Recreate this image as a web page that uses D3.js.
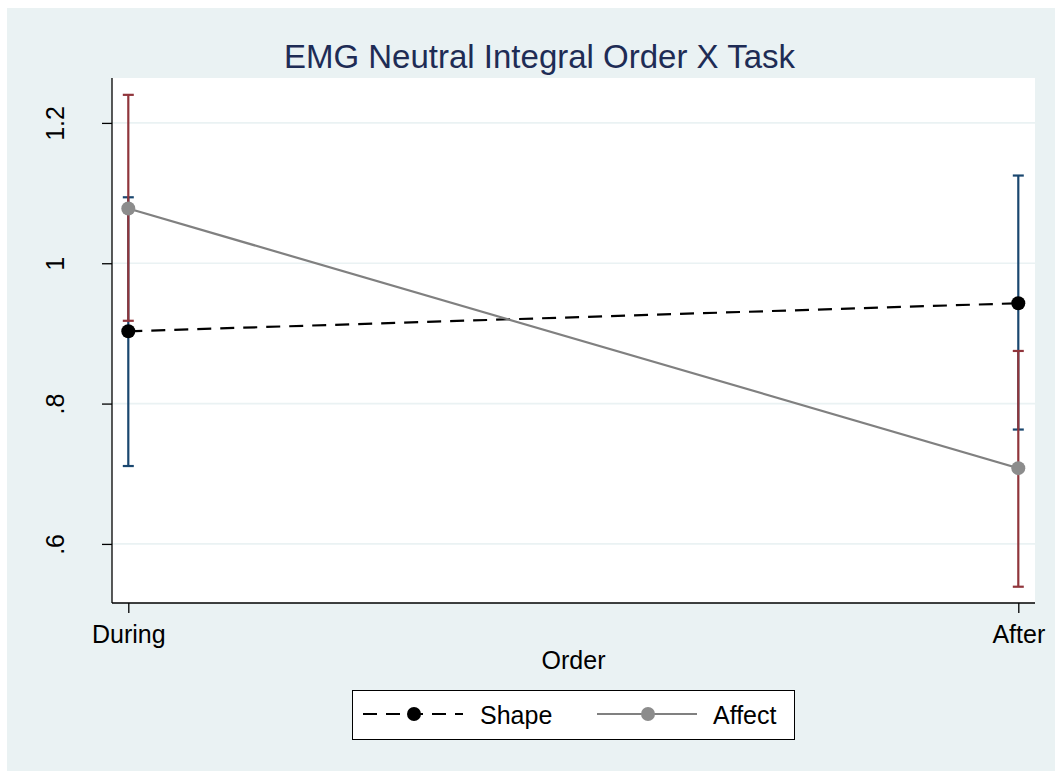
<!DOCTYPE html>
<html>
<head>
<meta charset="utf-8">
<script src="https://cdn.jsdelivr.net/npm/d3@7"></script>
<style>
  body { margin: 0; background: #fff; }
  svg text { font-family: "Liberation Sans", Arial, sans-serif; }
</style>
</head>
<body>
<div id="chart"></div>
<script>
// categories on x
var orders = ["During", "After"];

// Shape series (mean and CI)
var shapeMean = [0.903, 0.943];
var shapeLo = [0.711, 0.763];
var shapeHi = [1.094, 1.125];

// Affect series (mean and CI)
var affectMean = [1.078, 0.708];
var affectLo = [0.918, 0.539];
var affectHi = [1.240, 0.875];

// y ticks
var yTicks = [0.6, 0.8, 1, 1.2];
var yTickLabels = [".6", ".8", "1", "1.2"];

var W = 1055, H = 771;
var bg = "#eaf2f3";
var plot = {left: 112, right: 1035, top: 78, bottom: 603};

var svg = d3.select("#chart").append("svg")
  .attr("width", W)
  .attr("height", H);

// outer graph region
svg.append("rect")
  .attr("x", 7).attr("y", 8)
  .attr("width", W - 7).attr("height", H - 8)
  .attr("fill", bg);

// plot region
svg.append("rect")
  .attr("x", plot.left).attr("y", plot.top)
  .attr("width", plot.right - plot.left)
  .attr("height", plot.bottom - plot.top)
  .attr("fill", "#fff");

var x = d3.scalePoint()
  .domain(orders)
  .range([128.3, 1018.3]);

var y = d3.scaleLinear()
  .domain([0.5158, 1.264])
  .range([plot.bottom, plot.top]);

// gridlines
svg.append("g").selectAll("line")
  .data(yTicks)
  .enter().append("line")
  .attr("x1", plot.left).attr("x2", plot.right)
  .attr("y1", function(d) { return y(d); })
  .attr("y2", function(d) { return y(d); })
  .attr("stroke", bg)
  .attr("stroke-width", 1.6);

// y axis
var yAxis = svg.append("g")
  .attr("transform", "translate(" + plot.left + ",0)")
  .call(d3.axisLeft(y)
    .tickValues(yTicks)
    .tickSize(10)
    .tickPadding(0)
    .tickFormat(function(d, i) { return yTickLabels[i]; }));
yAxis.select(".domain").attr("stroke", "#000").attr("stroke-width", 1.3)
  .attr("d", "M0," + plot.top + "V" + plot.bottom);
yAxis.selectAll(".tick line").attr("stroke", "#000").attr("stroke-width", 1.3);
yAxis.selectAll(".tick text")
  .attr("font-size", 25)
  .attr("fill", "#000")
  .attr("text-anchor", "middle")
  .attr("dy", 0)
  .attr("x", 0)
  .attr("transform", "translate(-48.5,0) rotate(-90)");

// x axis
var xAxis = svg.append("g")
  .attr("transform", "translate(0," + plot.bottom + ")")
  .call(d3.axisBottom(x)
    .tickSize(10)
    .tickPadding(0));
xAxis.select(".domain").attr("stroke", "#000").attr("stroke-width", 1.3)
  .attr("d", "M" + plot.left + ",0H" + plot.right);
xAxis.selectAll(".tick line").attr("stroke", "#000").attr("stroke-width", 1.3);
xAxis.selectAll(".tick text")
  .attr("font-size", 25)
  .attr("fill", "#000")
  .attr("dy", 0)
  .attr("y", 40);

// axis title
svg.append("text")
  .attr("x", (plot.left + plot.right) / 2)
  .attr("y", 669)
  .attr("text-anchor", "middle")
  .attr("font-size", 25)
  .attr("fill", "#000")
  .text("Order");

// title
svg.append("text")
  .attr("x", 539.5)
  .attr("y", 67.7)
  .attr("text-anchor", "middle")
  .attr("font-size", 33)
  .attr("fill", "#1e2c55")
  .text("EMG Neutral Integral Order X Task");

// error bars: blue for Shape, then red for Affect on top
function errorBars(lo, hi, color) {
  var g = svg.append("g").attr("stroke", color).attr("stroke-width", 2.2);
  var idx = d3.range(orders.length);
  g.selectAll(".bar").data(idx).enter().append("line")
    .attr("x1", function(i) { return x(orders[i]); })
    .attr("x2", function(i) { return x(orders[i]); })
    .attr("y1", function(i) { return y(lo[i]); })
    .attr("y2", function(i) { return y(hi[i]); });
  [lo, hi].forEach(function(arr) {
    g.append("g").selectAll("line").data(idx).enter().append("line")
      .attr("x1", function(i) { return x(orders[i]) - 5.5; })
      .attr("x2", function(i) { return x(orders[i]) + 5.5; })
      .attr("y1", function(i) { return y(arr[i]); })
      .attr("y2", function(i) { return y(arr[i]); });
  });
}
errorBars(shapeLo, shapeHi, "#1a476f");
errorBars(affectLo, affectHi, "#90353b");

var line = d3.line()
  .x(function(d, i) { return x(orders[i]); })
  .y(function(d) { return y(d); });

function series(vals, color, markColor, dash) {
  svg.append("path")
    .datum(vals)
    .attr("d", line)
    .attr("fill", "none")
    .attr("stroke", color)
    .attr("stroke-width", 2.2)
    .attr("stroke-dasharray", dash);
  svg.append("g").selectAll("circle")
    .data(vals)
    .enter().append("circle")
    .attr("cx", function(d, i) { return x(orders[i]); })
    .attr("cy", function(d) { return y(d); })
    .attr("r", 7)
    .attr("fill", markColor);
}
series(shapeMean, "#000", "#000", "14,9");
series(affectMean, "#808080", "#8c8c8c", null);

// legend
var lg = svg.append("g");
lg.append("rect")
  .attr("x", 352.5).attr("y", 690.5)
  .attr("width", 442).attr("height", 49)
  .attr("fill", "#fff")
  .attr("stroke", "#000")
  .attr("stroke-width", 1);

var legendItems = [
  {name: "Shape", color: "#000", mark: "#000", dash: "14,9", x0: 363, tx: 480},
  {name: "Affect", color: "#808080", mark: "#8c8c8c", dash: null, x0: 597, tx: 713}
];
legendItems.forEach(function(it) {
  lg.append("line")
    .attr("x1", it.x0).attr("x2", it.x0 + 100)
    .attr("y1", 714).attr("y2", 714)
    .attr("stroke", it.color)
    .attr("stroke-width", 2.2)
    .attr("stroke-dasharray", it.dash);
  lg.append("circle")
    .attr("cx", it.x0 + 51).attr("cy", 714)
    .attr("r", 7)
    .attr("fill", it.mark);
  lg.append("text")
    .attr("x", it.tx).attr("y", 724)
    .attr("font-size", 25)
    .attr("fill", "#000")
    .text(it.name);
});
</script>
</body>
</html>
